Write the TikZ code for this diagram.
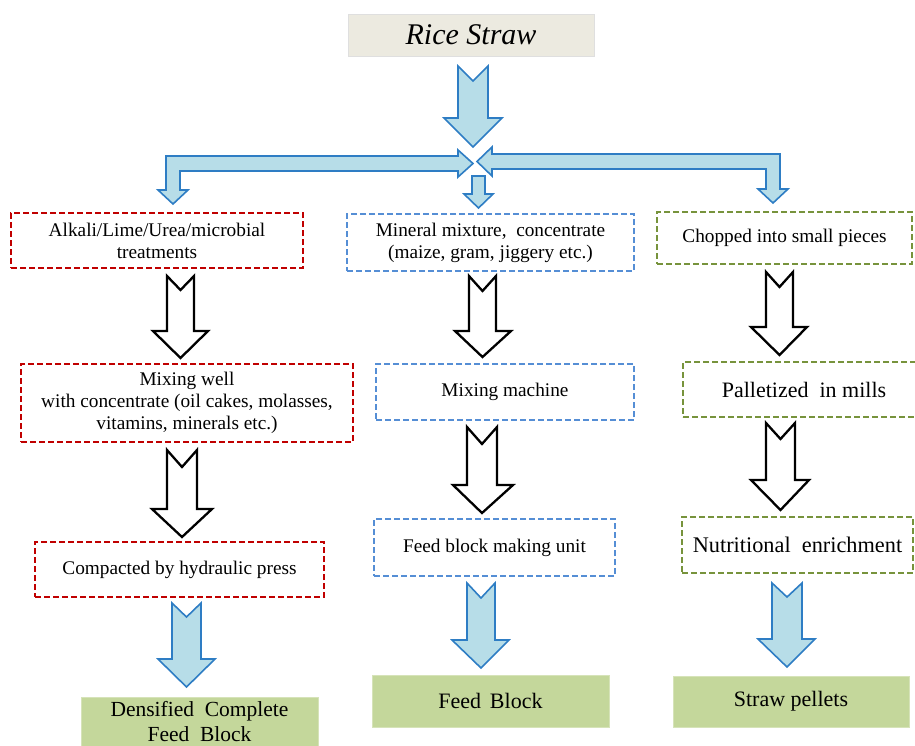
\documentclass[tikz,border=0pt]{standalone}
\usepackage{fontspec}
\setmainfont{Liberation Serif}
\definecolor{redd}{HTML}{C00000}
\definecolor{blued}{HTML}{558ED5}
\definecolor{greend}{HTML}{77933C}
\definecolor{arrowfill}{HTML}{B7DDE8}
\definecolor{arrowline}{HTML}{2E7DC4}
\definecolor{topfill}{HTML}{ECEAE0}
\definecolor{endfill}{HTML}{C4D79B}
\newcommand\blkarrow[9]{%
  \draw[#1] (#2,#4) -- ({(#2+#3)/2},#5) -- (#3,#4) -- (#3,#6) -- (#8,#6)
    -- ({(#2+#3)/2},#9) -- (#7,#6) -- (#2,#6) -- cycle;}
\tikzset{
  dbox/.style={draw, line width=1.8pt, dash pattern=on 6pt off 3pt, rectangle,
    align=center, inner sep=0pt, font=\fontsize{19.3}{22}\selectfont},
  redbox/.style={dbox, draw=redd},
  bluebox/.style={dbox, draw=blued},
  greenbox/.style={dbox, draw=greend},
  endbox/.style={rectangle, fill=endfill, draw=endfill!70!white, line width=0.8pt,
    align=center, inner sep=0pt, font=\fontsize{22}{25}\selectfont},
  hollow/.style={draw=black, fill=white, line width=2.3pt, line join=miter},
  bluearrow/.style={draw=arrowline, fill=arrowfill, line width=1.6pt, line join=miter},
}
\begin{document}
\begin{tikzpicture}[x=1pt,y=-1pt]
\useasboundingbox (0,0) rectangle (915,745);
\clip (0,0) rectangle (915,745);
% top box
\node[rectangle, fill=topfill, draw=gray!25, line width=0.6pt, minimum width=246pt,
  minimum height=42pt, inner sep=0pt, font=\fontsize{30}{32}\selectfont\itshape]
  (rice) at (471,35) {Rice Straw};
% main arrows
\blkarrow{bluearrow}{458}{488}{66}{81}{118}{444}{502}{147}
\draw[bluearrow] (472,176) -- (485,176) -- (485,194) -- (493,194) -- (478.5,208)
  -- (464,194) -- (472,194) -- cycle;
\draw[bluearrow] (458,156) -- (166,156) -- (166,190) -- (158,190) -- (173,204)
  -- (188,190) -- (180,190) -- (180,171) -- (458,171) -- (458,177) -- (473,163.5)
  -- (458,150) -- cycle;
\draw[bluearrow] (492,154) -- (780,154) -- (780,189) -- (788,189) -- (773,203)
  -- (758,189) -- (766,189) -- (766,169) -- (492,169) -- (492,176) -- (477,161.5)
  -- (492,147) -- cycle;
% left column
\node[redbox, minimum width=292pt, minimum height=55pt] (l1) at (157,240.5)
  {Alkali/Lime/Urea/microbial\\treatments};
\node[redbox, minimum width=332pt, minimum height=78pt] (l2) at (187,403)
  {Mixing well\\with concentrate (oil cakes, molasses,\\vitamins, minerals etc.)};
\node[redbox, minimum width=289pt, minimum height=55pt] (l3) at (179.5,569.5)
  {Compacted by hydraulic press};
\node[endbox, minimum width=237pt, minimum height=60pt] (l4) at (199.5,727)
  {};
\node[align=center, inner sep=0pt, font=\fontsize{21.5}{25}\selectfont] (l4t)
  at (199.5,722) {Densified\ \ Complete\\Feed\ \ Block};
\blkarrow{hollow}{167}{194}{276}{290}{331}{153}{208}{358}
\blkarrow{hollow}{167}{197}{450}{467}{509}{152}{212}{537}
\blkarrow{bluearrow}{172}{201}{603}{617}{659}{158}{215}{687}
% middle column
\node[bluebox, minimum width=287pt, minimum height=57pt] (m1) at (490.5,242.5)
  {Mineral mixture,\ \ concentrate\\(maize, gram, jiggery etc.)};
\node[bluebox, minimum width=258pt, minimum height=56pt] (m2) at (505,392)
  {Mixing machine};
\node[bluebox, minimum width=241pt, minimum height=57pt] (m3) at (494.5,547.5)
  {Feed block making unit};
\node[endbox, minimum width=237pt, minimum height=52pt] (m4) at (490.5,701)
  {Feed\hspace{0.4em}Block};
\blkarrow{hollow}{469}{496}{276}{291}{331}{455}{511}{357}
\blkarrow{hollow}{467}{497}{427}{444}{485}{453}{513}{513}
\blkarrow{bluearrow}{467}{495}{583}{598}{640}{452}{509}{668}
% right column
\node[greenbox, minimum width=255pt, minimum height=52pt] (r1) at (784.5,238)
  {Chopped into small pieces};
\node[greenbox, minimum width=242pt, minimum height=55pt,
  font=\fontsize{22}{26}\selectfont] (r2) at (804,389.5)
  {Palletized\ \ in mills};
\node[greenbox, minimum width=231pt, minimum height=56pt,
  font=\fontsize{22.3}{26}\selectfont] (r3) at (797.5,545)
  {Nutritional\ \ enrichment};
\node[endbox, minimum width=236pt, minimum height=51pt] (r4) at (791,701.5)
  {Straw pellets};
\blkarrow{hollow}{766}{793}{272}{287}{327}{751}{807}{355}
\blkarrow{hollow}{766}{795}{423}{439}{480}{751}{809}{510}
\blkarrow{bluearrow}{772}{802}{583}{597}{639}{758}{815}{667}
\end{tikzpicture}
\end{document}
